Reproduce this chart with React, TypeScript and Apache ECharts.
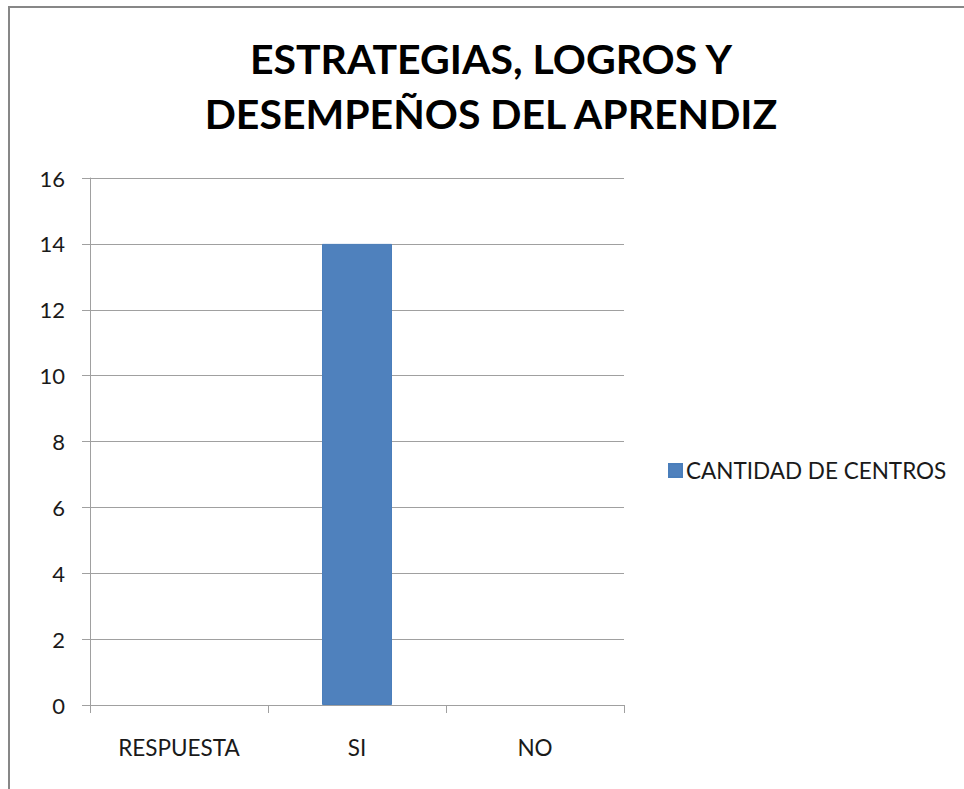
import React, { useEffect, useRef } from "react";
import * as echarts from "echarts";

const categories = ["RESPUESTA", "SI", "NO"];
const seriesName = "CANTIDAD DE CENTROS";
const values: (number | null)[] = [null, 14, null];
const titleText = "ESTRATEGIAS, LOGROS Y\nDESEMPEÑOS DEL APRENDIZ";
const yMin = 0;
const yMax = 16;
const yInterval = 2;

const FONT = "Lato, 'Open Sans', sans-serif";

export default function App() {
  const ref = useRef<HTMLDivElement>(null);
  useEffect(() => {
    if (!ref.current) return;
    const chart = echarts.init(ref.current, null, { renderer: "svg" });
    chart.setOption({
      animation: false,
      backgroundColor: "#ffffff",
      textStyle: { fontFamily: FONT },
      title: {
        text: titleText,
        left: 491,
        top: 31,
        padding: 0,
        textAlign: "center",
        textStyle: {
          fontFamily: FONT,
          fontSize: 41,
          fontWeight: "bold",
          color: "#000000",
          lineHeight: 55,
        },
      },
      legend: {
        data: [seriesName],
        left: 668,
        top: 459,
        padding: 0,
        itemWidth: 13,
        itemHeight: 13,
        icon: "rect",
        textStyle: { fontFamily: FONT, fontSize: 22.5, color: "#1a1a1a", padding: [0, 0, 0, -1] },
      },
      grid: { left: 90, right: 340, top: 178, bottom: 84, containLabel: false },
      xAxis: {
        type: "category",
        data: categories,
        boundaryGap: true,
        axisLine: { show: true, lineStyle: { color: "#a0a0a0", width: 1 } },
        axisTick: { show: true, length: 8, alignWithLabel: false, interval: 0, lineStyle: { color: "#a0a0a0" } },
        axisLabel: { margin: 31, fontFamily: FONT, fontSize: 22.5, color: "#1a1a1a", interval: 0 },
        splitLine: { show: false },
      },
      yAxis: {
        type: "value",
        min: yMin,
        max: yMax,
        interval: yInterval,
        axisLine: { show: true, lineStyle: { color: "#a0a0a0", width: 1 } },
        axisTick: { show: true, length: 8, lineStyle: { color: "#a0a0a0" } },
        axisLabel: { margin: 25, fontFamily: FONT, fontSize: 22, color: "#1a1a1a" },
        splitLine: { show: true, lineStyle: { color: "#a0a0a0", width: 1 } },
      },
      series: [
        {
          name: seriesName,
          type: "bar",
          data: values,
          barWidth: 70,
          itemStyle: { color: "#4f81bd", borderColor: "#4a7ebb", borderWidth: 1 },
        },
      ],
      graphic: [
        { type: "line", shape: { x1: 9, y1: 7, x2: 964, y2: 7 }, style: { stroke: "#878787", lineWidth: 2 } },
        { type: "line", shape: { x1: 9, y1: 6, x2: 9, y2: 789 }, style: { stroke: "#878787", lineWidth: 2 } },
      ],
    });
    return () => chart.dispose();
  }, []);
  return (
    <div style={{ position: "fixed", left: 0, top: 0, width: 964, height: 789, overflow: "hidden" }}>
      <div ref={ref} style={{ width: 964, height: 789 }} />
    </div>
  );
}
